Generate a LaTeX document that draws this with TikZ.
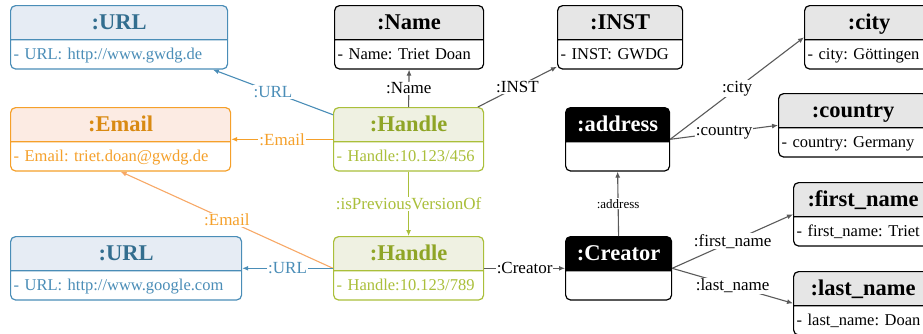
\documentclass[tikz,border=0pt]{standalone}
\usepackage{fontspec}
\setmainfont{Liberation Serif}
\usetikzlibrary{shapes.multipart,arrows.meta}
\usepackage{xcolor}
\definecolor{URLLine}{HTML}{4A8DB7}
\definecolor{URLFill}{HTML}{E6ECF4}
\definecolor{URLTitle}{HTML}{336E8F}
\definecolor{MailLine}{HTML}{F5A02A}
\definecolor{MailLight}{HTML}{F7A866}
\definecolor{MailFill}{HTML}{FCEBE3}
\definecolor{MailTitle}{HTML}{D98A12}
\definecolor{HdlLine}{HTML}{AABF3A}
\definecolor{HdlFill}{HTML}{EFF1E2}
\definecolor{HdlTitle}{HTML}{8FA526}
\definecolor{GrayFill}{HTML}{E6E6E6}
\definecolor{ConnGray}{HTML}{5A5A5A}

\frenchspacing
\newcommand{\hd}[2][black]{\centering\rule[-10pt]{0pt}{33pt}{\fontsize{22.5}{24}\selectfont\bfseries\color{#1}#2}\par}
\newcommand{\bd}[1]{\raggedright\rule[-9pt]{0pt}{28pt}#1\par}

\begin{document}
\begin{tikzpicture}[
    x=1pt, y=-1pt,
    cls/.style={
        rectangle split,
        rectangle split parts=2,
        rounded corners=5pt,
        draw,
        line width=1.2pt,
        inner xsep=3pt,
        inner ysep=0pt,
        anchor=north west,
        font=\fontsize{16.5}{18}\selectfont
    },
    urlcls/.style={cls, draw=URLLine, text=URLLine,
        rectangle split part fill={URLFill,white}},
    mailcls/.style={cls, draw=MailLine, text=MailLine,
        rectangle split part fill={MailFill,white}},
    hdlcls/.style={cls, draw=HdlLine, text=HdlLine,
        rectangle split part fill={HdlFill,white}},
    graycls/.style={cls, draw=black, text=black,
        rectangle split part fill={GrayFill,white}},
    blackcls/.style={cls, draw=black, text=black,
        rectangle split part fill={black,white}},
    lbl/.style={fill=white, inner sep=1pt, font=\fontsize{17}{19}\selectfont},
    conn/.style={draw=#1, line width=1.1pt, -{Latex[length=6pt,width=5pt]}}
]
\useasboundingbox (0,0) rectangle (923,333);

% left column
\node[urlcls, text width=211pt] (url1) at (10,5)
    {\hd[URLTitle]{:URL}\nodepart{two}\bd{- URL: http://www.gwdg.de}};
\node[mailcls, text width=214pt] (email) at (10,107)
    {\hd[MailTitle]{:Email}\nodepart{two}\bd{- Email: triet.doan@gwdg.de}};
\node[urlcls, text width=225pt] (url2) at (10,236)
    {\hd[URLTitle]{:URL}\nodepart{two}\bd{- URL: http://www.google.com}};

% handles
\node[graycls, text width=143pt] (name) at (334,5)
    {\hd{:Name}\nodepart{two}\bd{- Name: Triet Doan}};
\node[hdlcls, text width=144pt] (h1) at (333,107)
    {\hd[HdlTitle]{:Handle}\nodepart{two}\bd{- Handle:10.123/456}};
\node[hdlcls, text width=144pt] (h2) at (333,236)
    {\hd[HdlTitle]{:Handle}\nodepart{two}\bd{- Handle:10.123/789}};

% institute, address, creator
\node[graycls, text width=119pt] (inst) at (557,5)
    {\hd{:INST}\nodepart{two}\bd{- INST: GWDG}};
\node[blackcls, text width=98pt] (address) at (565,107)
    {\hd[white]{:address}\nodepart{two}\bd{}};
\node[blackcls, text width=100pt] (creator) at (565,236)
    {\hd[white]{:Creator}\nodepart{two}\bd{}};

% right column
\node[graycls, text width=123pt] (city) at (804,5)
    {\hd{:city}\nodepart{two}\bd{- city: Göttingen}};
\node[graycls, text width=143pt] (country) at (778,93)
    {\hd{:country}\nodepart{two}\bd{- country: Germany}};
\node[graycls, text width=133pt] (first) at (793,182)
    {\hd{:first\_name}\nodepart{two}\bd{- first\_name: Triet}};
\node[graycls, text width=133pt] (last) at (793,271)
    {\hd{:last\_name}\nodepart{two}\bd{- last\_name: Doan}};

% connectors
\draw[conn=URLLine] (h1.162) -- node[lbl, text=URLLine] {:URL} (url1.-19);
\draw[conn=MailLine] (h1.west) -- node[lbl, text=MailLine] {:Email} (email.east);
\draw[conn=ConnGray] (h1.north) -- node[lbl] {:Name} (name.south);
\draw[conn=ConnGray] (h1.25) -- node[lbl] {:INST} (inst.205);
\draw[conn=HdlLine] (h1.south) -- node[lbl, text=HdlLine] {:isPreviousVersionOf} (h2.north);

\draw[conn=MailLight] (h2.west) -- node[lbl, text=MailLine] {:Email} (email.south);
\draw[conn=URLLine] (h2.west) -- node[lbl, text=URLLine] {:URL} (url2.east);
\draw[conn=ConnGray] (h2.east) -- node[lbl] {:Creator} (creator.west);

\draw[conn=ConnGray] (creator.north) -- node[lbl, font=\fontsize{13}{15}\selectfont] {:address} (address.south);
\draw[conn=ConnGray] (address.east) -- node[lbl] {:city} (city.west);
\draw[conn=ConnGray] (address.east) -- node[lbl] {:country} (country.west);
\draw[conn=ConnGray] (creator.east) -- node[lbl] {:first\_name} (first.west);
\draw[conn=ConnGray] (creator.east) -- node[lbl] {:last\_name} (last.west);

\end{tikzpicture}
\end{document}
